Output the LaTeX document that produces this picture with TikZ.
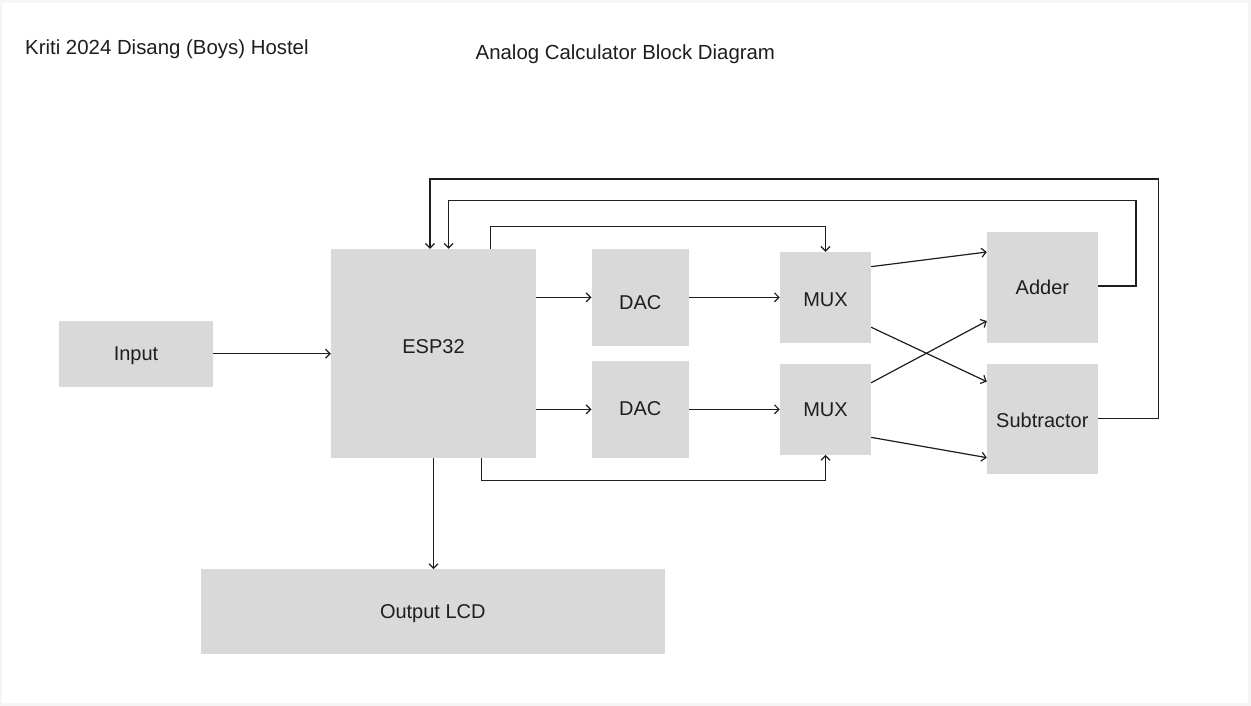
\documentclass[tikz,border=0pt]{standalone}
\usepackage{fontspec}
\setmainfont{Liberation Sans}
\usetikzlibrary{arrows.meta,calc}
\definecolor{boxgray}{HTML}{D9D9D9}
\definecolor{framegray}{HTML}{F5F5F5}
\definecolor{ink}{HTML}{1E1E1E}
\tikzset{
  box/.style={rectangle, fill=boxgray, draw=none, inner sep=0pt, text=ink,
    font=\fontsize{20}{24}\selectfont, text height=14.4pt, text depth=0pt},
  ttl/.style={inner sep=0pt, anchor=base west, text=ink, font=\fontsize{20.4}{24}\selectfont},
  conn/.style={draw=ink, line width=1.2pt},
  arr/.style={conn, -{Straight Barb[length=4.5pt,width=9pt]}}
}
\begin{document}
\begin{tikzpicture}[x=1pt,y=-1pt]
\useasboundingbox (0,0) rectangle (1251,706);
\fill[framegray] (0,0) rectangle (1251,706);
\fill[white] (2,3) rectangle (1248,703);

\node[ttl] (t1) at (25,55) {Kriti 2024 Disang (Boys) Hostel};
\node[ttl] (t2) at (475.5,60) {Analog Calculator Block Diagram};

\node[box, minimum width=154pt, minimum height=66pt] (input) at (136,353.7) {Input};
\node[box, minimum width=205pt, minimum height=209pt, text depth=13.6pt] (esp) at (433.5,353.5) {ESP32};
\node[box, minimum width=97pt, minimum height=96.7pt, text height=24.4pt] (dac1) at (640.2,297.35) {DAC};
\node[box, minimum width=97pt, minimum height=96.7pt, text depth=2pt] (dac2) at (640.2,409.35) {DAC};
\node[box, minimum width=91pt, minimum height=90.7pt, text height=18pt] (mux1) at (825.5,297.35) {MUX};
\node[box, minimum width=91pt, minimum height=90.7pt] (mux2) at (825.5,409.35) {MUX};
\node[box, minimum width=110.7pt, minimum height=110.4pt] (adder) at (1042.35,287.5) {Adder};
\node[box, minimum width=110.7pt, minimum height=110.3pt, text height=16pt] (sub) at (1042.35,419.15) {Subtractor};
\node[box, minimum width=464pt, minimum height=84.4pt] (lcd) at (432.8,611.5) {Output LCD};

% input to ESP32
\draw[arr] (input.east) -- (input.east -| esp.west);
% ESP32 to DACs
\draw[arr] (esp.east |- dac1) -- (dac1.west);
\draw[arr] (esp.east |- dac2) -- (dac2.west);
% DACs to MUXes
\draw[arr] (dac1.east) -- (mux1.west);
\draw[arr] (dac2.east) -- (mux2.west);
% ESP32 select lines to MUXes
\coordinate (s1) at (490.7,226.7);
\draw[arr] (s1 |- esp.north) -- (s1) -| (mux1.north);
\coordinate (s2) at (481.7,480.7);
\draw[arr] (s2 |- esp.south) -- (s2) -| (mux2.south);
% ESP32 to LCD
\draw[arr] (esp.south) -- (esp.south |- lcd.north);
% MUX to adder / subtractor
\draw[arr] ($(mux1.east)+(0,-30.7)$) -- ($(adder.west)+(0,-35.5)$);
\draw[arr] ($(mux1.east)+(0,29.9)$) -- ($(sub.west)+(0,-37.5)$);
\draw[arr] ($(mux2.east)+(0,-26.6)$) -- ($(adder.west)+(0,33.5)$);
\draw[arr] ($(mux2.east)+(0,28)$) -- ($(sub.west)+(0,38.5)$);
% feedback lines
\coordinate (f1) at (1136,200.3);
\coordinate (f1e) at (448.6,200.3);
\draw[arr] ($(adder.east)+(0,-1.5)$) -| (f1) -- (f1e) -- (f1e |- esp.north);
\coordinate (f2) at (1158.3,179);
\coordinate (f2e) at (430,179);
\draw[arr] ($(sub.east)+(0,-0.5)$) -| (f2) -- (f2e) -- (f2e |- esp.north);
\end{tikzpicture}
\end{document}
